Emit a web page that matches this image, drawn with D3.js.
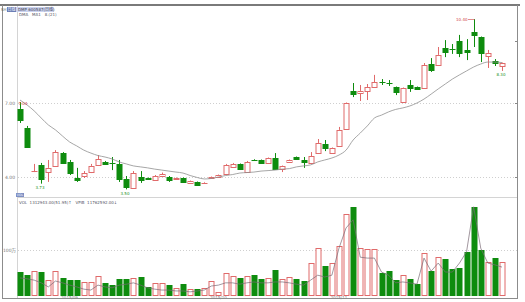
<!DOCTYPE html>
<meta charset="utf-8">
<style>
  body { margin: 0; background: #fff; }
  text { font-family: "DejaVu Sans", "Noto Sans CJK SC", sans-serif; }
</style>
<body>
<svg width="525" height="302"></svg>
<script src="https://d3js.org/d3.v7.min.js"></script>
<script>
  // daily bars
  var openP  = [6.76,5.99,4.22,4.49,4.20,4.45,4.97,4.61,3.96,4.04,4.20,4.49,4.61,4.57,4.53,3.92,3.55,4.00,3.96,3.88,
                4.04,4.00,3.92,3.96,3.76,3.80,3.76,3.96,4.00,4.12,4.41,4.53,4.20,4.70,4.69,4.57,4.77,4.32,4.61,4.81,
                4.69,4.57,4.97,5.34,4.97,5.26,5.95,7.49,7.41,7.49,7.65,7.85,7.81,7.65,7.04,7.73,7.65,7.61,8.58,8.54,
                9.23,9.19,9.51,9.15,9.88,9.68,8.91,8.70,8.50];
  var highP  = [7.04,6.07,4.53,4.57,4.69,5.09,5.01,4.69,4.37,4.24,4.53,4.89,4.65,4.81,4.69,4.04,4.24,4.24,3.98,4.08,
                4.18,4.04,3.98,3.98,3.86,3.82,3.80,4.02,4.10,4.53,4.57,4.55,4.65,4.73,4.71,4.79,4.97,4.47,4.71,4.83,
                4.81,5.01,5.54,5.50,5.20,6.03,7.02,7.81,7.73,7.77,8.14,7.97,7.93,7.67,7.63,7.93,7.67,8.62,8.82,9.27,
                9.55,9.39,9.76,9.59,10.40,9.70,9.15,8.78,8.64];
  var lowP   = [6.19,5.18,4.20,3.73,3.80,4.41,4.53,4.08,3.80,3.96,4.16,4.45,4.49,4.28,3.80,3.50,3.53,3.76,3.90,3.86,
                4.02,3.80,3.90,3.76,3.74,3.64,3.72,3.94,3.98,4.10,4.39,4.30,4.18,4.66,4.55,4.55,4.30,4.20,4.59,4.71,
                4.37,4.55,4.95,5.05,4.95,5.24,5.93,7.24,7.08,7.12,7.63,7.73,7.69,7.32,7.00,7.45,7.55,7.59,8.26,8.50,
                8.86,8.99,8.86,8.74,9.27,8.66,8.42,8.50,8.30];
  var closeP = [6.31,5.22,4.24,3.92,4.37,5.01,4.57,4.16,3.88,4.16,4.45,4.73,4.53,4.55,3.92,3.58,4.16,3.88,3.92,4.04,
                4.12,3.88,3.96,3.80,3.84,3.68,3.77,4.00,4.08,4.49,4.53,4.32,4.61,4.69,4.57,4.77,4.32,4.45,4.69,4.73,
                4.61,4.85,5.38,5.18,5.18,5.91,7.00,7.36,7.49,7.65,7.85,7.84,7.80,7.45,7.61,7.61,7.57,8.54,8.34,8.95,
                9.07,9.18,9.03,9.07,9.76,9.03,9.03,8.62,8.62];
  var priceMa = [7.12,6.92,6.68,6.39,6.11,5.91,5.66,5.42,5.26,5.09,4.97,4.87,4.81,4.73,4.61,4.53,4.45,4.41,4.37,4.32,
                 4.28,4.24,4.20,4.16,4.06,3.98,3.92,3.94,4.00,4.06,4.10,4.16,4.18,4.20,4.24,4.26,4.28,4.32,4.34,4.41,
                 4.45,4.49,4.61,4.69,4.77,4.89,5.09,5.50,5.78,6.07,6.39,6.51,6.64,6.74,6.80,6.88,7.00,7.16,7.36,7.57,
                 7.77,7.97,8.14,8.30,8.46,8.58,8.66,8.66,8.64];
  // volume in 万 shares
  var volume = [51,44,53,51,33,53,38,33,33,29,29,42,27,22,36,36,38,40,18,27,
                27,22,16,24,13,13,16,31,7,49,42,38,42,44,36,38,56,36,40,36,
                31,71,104,64,71,109,180,196,104,102,102,49,53,33,44,36,24,93,53,84,
                80,58,60,96,196,100,73,82,73];
  var volMa  = [38,36,33,27,18,31,27,22,18,13,11,22,18,16,22,24,27,22,16,13,
                11,11,9,9,7,9,11,20,22,27,27,24,27,29,27,27,29,29,27,24,
                22,33,44,40,44,104,149,167,84,82,82,51,44,27,29,27,24,82,53,71,
                51,51,71,96,196,104,71,67,62];

  var priceTicks = [4, 7];
  var volTicks = [100];
  var volTickLabels = ["100万"];
  var dateIdx = [7, 28, 45];
  var dateLabels = ["2015/09", "2015/10", "2015/11"];
  var highMarks = [0, 64];
  var lowMarks = [3, 15, 68];

  var upColor = "#e06a6a", downColor = "#0e8c0e";
  var n = openP.length;
  var idx = d3.range(n);

  var svg = d3.select("svg");
  var x = d3.scaleLinear().domain([0, n - 1]).range([20, 502]);
  var y = d3.scaleLinear().domain([4, 7]).range([177, 103]);
  var yv = d3.scaleLinear().domain([0, 100]).range([295, 250]);
  var px = function (i) { return Math.round(x(i)) + 0.5; };

  // frame
  svg.append("rect").attr("x", 0).attr("y", 4).attr("width", 520).attr("height", 2).attr("fill", "#7a7a7a");
  var frame = [[2.5, 5, 2.5, 299], [517.5, 5, 517.5, 299], [2, 298.5, 518, 298.5],
               [17.5, 6, 17.5, 298], [17, 197.5, 517, 197.5]];
  svg.selectAll(".frame").data(frame).enter().append("line")
    .attr("x1", function (d) { return d[0]; }).attr("y1", function (d) { return d[1]; })
    .attr("x2", function (d) { return d[2]; }).attr("y2", function (d) { return d[3]; })
    .attr("stroke", function (d, i) { return i < 3 ? "#8c8c8c" : "#d4d4d4"; });

  // price grid + labels
  svg.selectAll(".pgrid").data(priceTicks).enter().append("line")
    .attr("x1", 18).attr("x2", 517)
    .attr("y1", function (d) { return Math.round(y(d)) + 0.5; })
    .attr("y2", function (d) { return Math.round(y(d)) + 0.5; })
    .attr("stroke", "#cfcfcf").attr("stroke-dasharray", "1,2");
  svg.selectAll(".plab").data(priceTicks).enter().append("text")
    .attr("x", 15).attr("y", function (d) { return y(d) + 1.8; })
    .attr("text-anchor", "end").attr("font-size", 4.5).attr("fill", "#777")
    .text(function (d) { return d.toFixed(2); });
  // right side ticks
  svg.selectAll(".rtick").data([9.5, 7, 4]).enter().append("line")
    .attr("x1", 515).attr("x2", 517)
    .attr("y1", function (d) { return Math.round(y(d)) + 0.5; })
    .attr("y2", function (d) { return Math.round(y(d)) + 0.5; })
    .attr("stroke", "#888");

  // volume grid + labels
  svg.selectAll(".vgrid").data(volTicks).enter().append("line")
    .attr("x1", 18).attr("x2", 517)
    .attr("y1", function (d) { return Math.round(yv(d)) + 0.5; })
    .attr("y2", function (d) { return Math.round(yv(d)) + 0.5; })
    .attr("stroke", "#cfcfcf").attr("stroke-dasharray", "1,2");
  svg.selectAll(".vlab").data(volTicks).enter().append("text")
    .attr("x", 16).attr("y", function (d) { return yv(d) + 1.8; })
    .attr("text-anchor", "end").attr("font-size", 4.5).attr("fill", "#777")
    .text(function (d, i) { return volTickLabels[i]; });

  // date labels
  svg.selectAll(".date").data(dateIdx).enter().append("text")
    .attr("x", function (d) { return x(d); }).attr("y", 298.5)
    .attr("text-anchor", "middle").attr("font-size", 4).attr("fill", "#888")
    .text(function (d, i) { return dateLabels[i]; });

  // title bar
  svg.append("text").attr("x", 1).attr("y", 10.8).attr("font-size", 4).attr("fill", "#666").text("SH");
  svg.append("rect").attr("x", 7).attr("y", 7).attr("width", 9).attr("height", 5).attr("fill", "#6a7db5");
  svg.append("text").attr("x", 11.5).attr("y", 10.8).attr("text-anchor", "middle").attr("font-size", 4)
    .attr("fill", "#fff").style("font-family", "Noto Sans CJK SC").text("日线");
  svg.append("rect").attr("x", 16).attr("y", 7).attr("width", 38).attr("height", 5).attr("fill", "#cbd3ef");
  svg.append("text").attr("x", 18).attr("y", 10.8).attr("font-size", 4).attr("fill", "#445")
    .text("DMP 600587(日线)");
  svg.append("text").attr("x", 19).attr("y", 16).attr("font-size", 4).attr("fill", "#556")
    .attr("xml:space", "preserve").text("DMA   MA1   8.(21)");

  // volume header
  svg.append("rect").attr("x", 16).attr("y", 193).attr("width", 8).attr("height", 4).attr("fill", "#7d8fc4");
  svg.append("text").attr("x", 20).attr("y", 196.4).attr("text-anchor", "middle").attr("font-size", 3.2)
    .attr("fill", "#fff").text("VOL");
  svg.append("text").attr("x", 19).attr("y", 203.5).attr("font-size", 4).attr("fill", "#556")
    .attr("xml:space", "preserve").text("VOL  1312943.00(51.95)↑   VPIB  11762592.00↓");

  // candles
  var isUp = function (i) { return closeP[i] >= openP[i]; };
  var cg = svg.append("g");
  var c = cg.selectAll(".candle").data(idx).enter().append("g");
  // upper wick
  c.append("line")
    .attr("x1", px).attr("x2", px)
    .attr("y1", function (i) { return y(highP[i]); })
    .attr("y2", function (i) { return y(Math.max(openP[i], closeP[i])); })
    .attr("stroke", function (i) { return isUp(i) ? upColor : downColor; });
  // lower wick
  c.append("line")
    .attr("x1", px).attr("x2", px)
    .attr("y1", function (i) { return y(Math.min(openP[i], closeP[i])); })
    .attr("y2", function (i) { return y(lowP[i]); })
    .attr("stroke", function (i) { return isUp(i) ? upColor : downColor; });
  // body
  c.append("rect")
    .attr("x", function (i) { return px(i) - 2.5; })
    .attr("width", 5)
    .attr("y", function (i) { return Math.round(y(Math.max(openP[i], closeP[i]))) + 0.5; })
    .attr("height", function (i) {
      return Math.max(0.01, Math.round(Math.abs(y(openP[i]) - y(closeP[i]))));
    })
    .attr("fill", function (i) { return isUp(i) ? "#fff" : downColor; })
    .attr("stroke", function (i) { return isUp(i) ? upColor : downColor; });

  // price moving average
  var maLine = d3.line().x(function (i) { return x(i); }).y(function (i) { return y(priceMa[i]); })
    .curve(d3.curveMonotoneX);
  svg.append("path").attr("d", maLine(idx)).attr("fill", "none").attr("stroke", "#8f8f8f").attr("stroke-width", 0.8);

  // extreme labels
  svg.selectAll(".hl").data(highMarks).enter().append("text")
    .attr("x", function (i) { return i === 0 ? px(i) - 2 : px(i) - 7; })
    .attr("y", function (i) { return y(highP[i]) + (i === 0 ? 2.5 : 1.5); })
    .attr("text-anchor", function (i) { return i === 0 ? "start" : "end"; })
    .attr("font-size", 4).attr("fill", "#d04040")
    .text(function (i) { return highP[i].toFixed(2); });
  svg.selectAll(".hll").data(highMarks.slice(1)).enter().append("line")
    .attr("x1", function (i) { return px(i) - 6.5; }).attr("x2", px)
    .attr("y1", function (i) { return Math.round(y(highP[i])) + 0.5; })
    .attr("y2", function (i) { return Math.round(y(highP[i])) + 0.5; })
    .attr("stroke", "#d04040").attr("stroke-width", 0.6);
  svg.selectAll(".ll").data(lowMarks).enter().append("text")
    .attr("x", function (i) { return px(i) - 1.5; })
    .attr("y", function (i) { return y(lowP[i]) + 5.5; })
    .attr("text-anchor", "middle").attr("font-size", 4).attr("fill", "#1a8f1a")
    .text(function (i) { return lowP[i].toFixed(2); });

  // volume bars
  var vg = svg.append("g");
  vg.selectAll(".vol").data(idx).enter().append("rect")
    .attr("x", function (i) { return px(i) - 2.5; })
    .attr("width", 5)
    .attr("y", function (i) { return Math.round(yv(volume[i])) + 0.5; })
    .attr("height", function (i) { return 295 - Math.round(yv(volume[i])); })
    .attr("fill", function (i) { return isUp(i) ? "#fff" : downColor; })
    .attr("stroke", function (i) { return isUp(i) ? upColor : downColor; });

  var vmaLine = d3.line().x(function (i) { return x(i); }).y(function (i) { return yv(volMa[i]); });
  svg.append("path").attr("d", vmaLine(idx)).attr("fill", "none").attr("stroke", "#7a6a75").attr("stroke-width", 0.7);
</script>
</body>
